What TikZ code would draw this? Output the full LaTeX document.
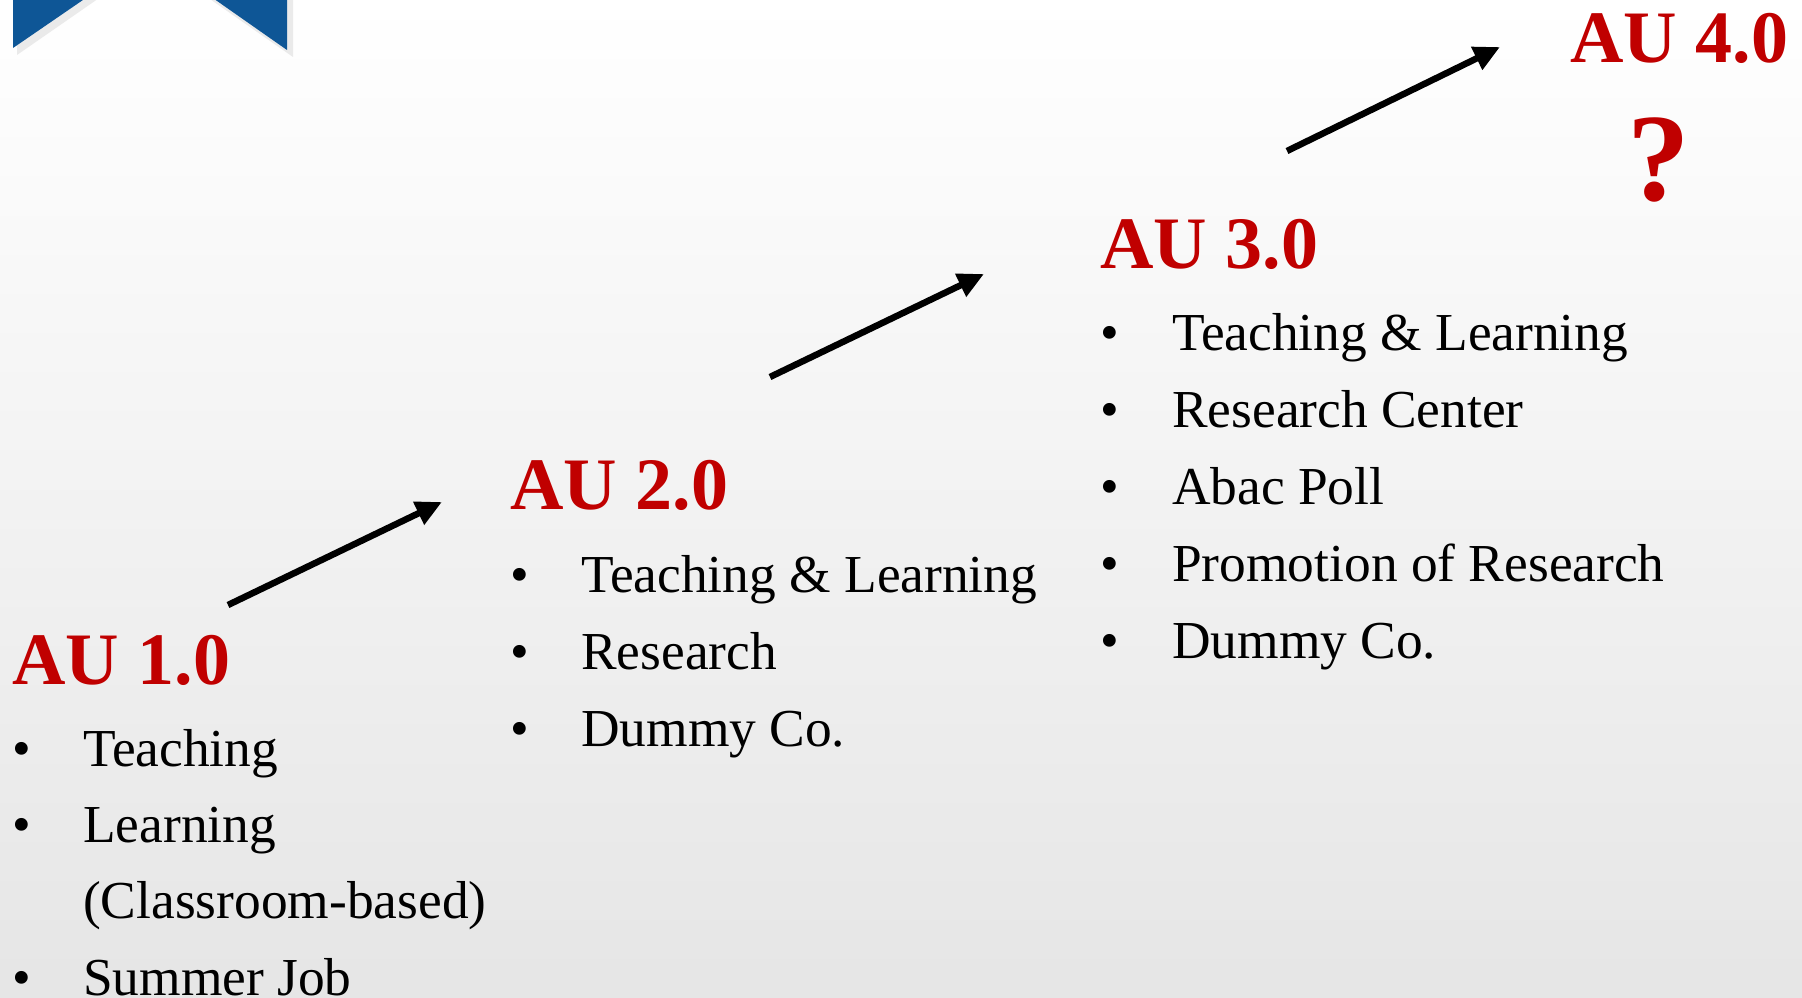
\documentclass[tikz,border=0pt]{standalone}
\usepackage{fontspec}
\setmainfont{Liberation Serif}
\usetikzlibrary{arrows.meta}
\definecolor{aured}{RGB}{192,0,0}
\definecolor{aublue}{RGB}{14,86,150}
\tikzset{
  version/.style={anchor=base west, inner sep=0pt, text=aured,
    font=\fontsize{74}{80}\selectfont\bfseries},
  dot/.style={anchor=base west, inner sep=0pt, font=\fontsize{53.4}{60}\selectfont},
  entry/.style={anchor=base west, inner sep=0pt, font=\fontsize{53.4}{60}\selectfont},
  stair/.style={line width=6.5pt, -{Triangle[length=26pt,width=24pt]}}
}
\begin{document}
\begin{tikzpicture}[x=1pt,y=-1pt]
    \useasboundingbox (0,0) rectangle (1802,998);
    %% background
    \shade[top color=white, middle color=gray!5, bottom color=gray!20] (0,0) rectangle (1802,998);
    %% ribbon
    \begin{scope}
      \clip (0,0) rectangle (1802,998);
      \fill[gray!60, opacity=0.25] (17,-10) -- (293,-10) -- (293,57) -- (154,-40) -- (17,55) -- cycle;
      \fill[aublue] (13,-10) -- (287,-10) -- (287,50) -- (150,-46) -- (13,48) -- cycle;
    \end{scope}
    %% AU 1.0
    \node[version] (v1) at (12,684) {AU 1.0};
    \node[dot] (b1a) at (12,766) {•};
    \node[entry] (t1a) at (83,766) {Teaching};
    \node[dot] (b1b) at (12,842) {•};
    \node[entry] (t1b) at (83,842) {Learning};
    \node[entry] (t1c) at (83,918) {(Classroom-based)};
    \node[dot] (b1d) at (12,995) {•};
    \node[entry] (t1d) at (83,995) {Summer Job};
    %% AU 2.0
    \node[version] (v2) at (510,509) {AU 2.0};
    \foreach \txt [count=\i] in {Teaching \& Learning, Research, Dummy Co.} {
      \node[dot] (b2-\i) at (510,515+77*\i) {•};
      \node[entry] (t2-\i) at (581,515+77*\i) {\txt};
    }
    %% AU 3.0
    \node[version] (v3) at (1100,268) {AU 3.0};
    \foreach \txt [count=\i] in {Teaching \& Learning, Research Center, Abac Poll,
                                 Promotion of Research, Dummy Co.} {
      \node[dot] (b3-\i) at (1100,274+76.8*\i) {•};
      \node[entry] (t3-\i) at (1172,274+76.8*\i) {\txt};
    }
    %% AU 4.0
    \node[version] (v4) at (1570,63) {AU 4.0};
    \node[anchor=base, inner sep=0pt, text=aured, font=\fontsize{125}{130}\selectfont\bfseries]
      (q4) at (1659,200) {?};
    %% arrows
    \coordinate (a1s) at (228,605);
    \coordinate (a1e) at (442,502);
    \coordinate (a2s) at (770,377);
    \coordinate (a2e) at (984,274);
    \coordinate (a3s) at (1287,151);
    \coordinate (a3e) at (1500,47);
    \draw[stair] (a1s) -- (a1e);
    \draw[stair] (a2s) -- (a2e);
    \draw[stair] (a3s) -- (a3e);
\end{tikzpicture}
\end{document}
